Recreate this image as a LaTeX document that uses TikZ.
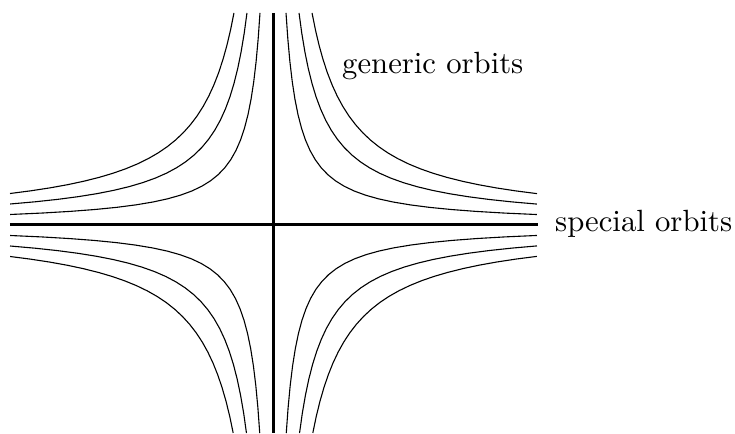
\documentclass[tikz,border=0pt]{standalone}
\usepackage{graphicx}
\begin{document}
\begin{tikzpicture}[x=1pt,y=1pt,
  orbit/.style={line width=1.1pt,line join=round},
  axisline/.style={line width=3pt},
  lbl/.style={inner sep=0pt,anchor=base west}]
\useasboundingbox (-273,-208) rectangle (462,225);
\coordinate (L) at (-263,0);
\coordinate (R) at (265,0);
\coordinate (T) at (0,212);
\coordinate (B) at (0,-208);
\draw[axisline] (L) -- (R);
\draw[axisline] (T) -- (B);
\foreach \k in {1,2,3}{
  \pgfmathsetmacro{\c}{2760*\k}
  % upper right
  \draw[orbit] plot[domain={ln(\c/212)}:{ln(264)},samples=24,variable=\t] ({exp(\t)},{\c/exp(\t)});
  % upper left
  \draw[orbit] plot[domain={ln(\c/212)}:{ln(263)},samples=24,variable=\t] ({-exp(\t)},{\c/exp(\t)});
  % lower right
  \draw[orbit] plot[domain={ln(\c/208)}:{ln(264)},samples=24,variable=\t] ({exp(\t)},{-\c/exp(\t)});
  % lower left
  \draw[orbit] plot[domain={ln(\c/208)}:{ln(263)},samples=24,variable=\t] ({-exp(\t)},{-\c/exp(\t)});
}
\node[lbl] (gen) at (69,151) {\scalebox{3.07}{generic orbits}};
\node[lbl] (spec) at (282,-7) {\scalebox{3.07}{special orbits}};
\end{tikzpicture}
\end{document}
